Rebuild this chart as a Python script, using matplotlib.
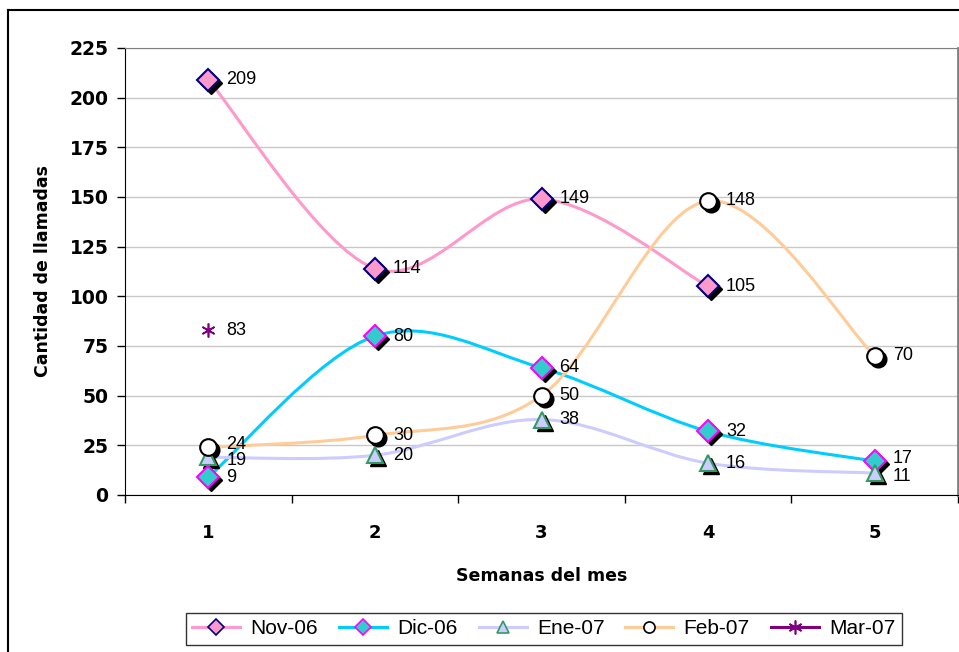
import matplotlib
matplotlib.use('Agg')
import matplotlib.pyplot as plt
import numpy as np
from matplotlib.path import Path
from matplotlib.patches import PathPatch
from matplotlib.lines import Line2D
from matplotlib.transforms import offset_copy

semanas = [1, 2, 3, 4, 5]
nov06 = [209, 114, 149, 105]
dic06 = [9, 80, 64, 32, 17]
ene07 = [19, 20, 38, 16, 11]
feb07 = [24, 30, 50, 148, 70]
mar07 = [83]
series_names = ['Nov-06', 'Dic-06', 'Ene-07', 'Feb-07', 'Mar-07']
yticks = [0, 25, 50, 75, 100, 125, 150, 175, 200, 225]

# line colour, marker, face, edge
styles = {
    'Nov-06': ('#FF99CC', 'D', '#FF99CC', '#000080'),
    'Dic-06': ('#00CCFF', 'D', '#33CCCC', '#FF00FF'),
    'Ene-07': ('#CCCCFF', '^', '#CCCCFF', '#339966'),
    'Feb-07': ('#FFCC99', 'o', 'white', 'black'),
    'Mar-07': ('#800080', (6, 2, 0), '#800080', '#800080'),
}
values = {'Nov-06': nov06, 'Dic-06': dic06, 'Ene-07': ene07,
          'Feb-07': feb07, 'Mar-07': mar07}
msizes = {'D': 11, '^': 12, 'o': 12}
# small vertical nudges (pixels) for crowded labels
nudge = {('Feb-07', 1): 3, ('Ene-07', 1): -3,
         ('Dic-06', 5): 3, ('Ene-07', 5): -3}


def smooth_path(xs, ys, t=1/6):
    # excel-like smoothed line as cubic bezier
    p = np.column_stack([xs, ys]).astype(float)
    n = len(p)
    verts = [p[0]]
    codes = [Path.MOVETO]
    for i in range(n - 1):
        p0 = p[i - 1] if i > 0 else p[i]
        p1 = p[i]
        p2 = p[i + 1]
        p3 = p[i + 2] if i + 2 < n else p[i + 1]
        verts += [p1 + (p2 - p0) * t, p2 - (p3 - p1) * t, p2]
        codes += [Path.CURVE4] * 3
    return Path(verts, codes)


fig = plt.figure(figsize=(9.59, 6.52), dpi=100)
ax = fig.add_axes([125/959, 1 - 495/652, 833/959, 447/652])

shadow = offset_copy(ax.transData, fig=fig, x=3, y=-3, units='dots')

for name in series_names:
    col, mk, fc, ec = styles[name]
    ys = values[name]
    xs = semanas[:len(ys)]
    if len(ys) > 1:
        ax.add_patch(PathPatch(smooth_path(xs, ys), fill=False, edgecolor=col,
                               lw=2.2, zorder=2, capstyle='round'))
    if name == 'Mar-07':
        ax.plot(xs, ys, ls='none', marker=mk, ms=10, mec=col, mew=1.2, zorder=4)
    else:
        ms = msizes[mk]
        ax.plot(xs, ys, ls='none', marker=mk, ms=ms, mfc='black', mec='black',
                transform=shadow, zorder=3)
        ax.plot(xs, ys, ls='none', marker=mk, ms=ms, mfc=fc, mec=ec, mew=1.5,
                zorder=4)
    for x, y in zip(xs, ys):
        dy = nudge.get((name, x), 0)
        ax.annotate(str(y), (x, y), xytext=(18, dy), textcoords='offset pixels',
                    ha='left', va='center', fontsize=13,
                    family='Liberation Sans', zorder=5)

ax.set_xlim(0.5, 5.5)
ax.set_ylim(0, 225)
ax.set_yticks(yticks)
ax.set_xticks([0.5, 1.5, 2.5, 3.5, 4.5, 5.5])
ax.set_xticklabels([])
ax.set_xticks(semanas, minor=True)
ax.set_xticklabels([str(s) for s in semanas], minor=True,
                   fontsize=13, fontweight='bold')
ax.tick_params(axis='x', which='major', direction='out', length=6, width=1)
ax.tick_params(axis='x', which='minor', length=0, pad=21)
ax.tick_params(axis='y', direction='out', length=6, width=1, pad=6,
               labelsize=13.5)
for lab in ax.get_yticklabels():
    lab.set_fontweight('bold')

ax.grid(axis='y', color='#C8C8C8', lw=1)
ax.set_axisbelow(True)
ax.spines['left'].set_color('black')
ax.spines['bottom'].set_color('black')
ax.spines['top'].set_color('#808080')
ax.spines['right'].set_color('#808080')
ax.spines['right'].set_linewidth(2)

ax.set_ylabel('Cantidad de llamadas', fontsize=12.5, fontweight='bold')
ax.yaxis.set_label_coords(-0.088, 0.5)
ax.set_xlabel('Semanas del mes', fontsize=12.5, fontweight='bold')
ax.xaxis.set_label_coords(0.5, -0.16)

handles = []
for name in series_names:
    col, mk, fc, ec = styles[name]
    ms = 10 if name == 'Mar-07' else 8
    handles.append(Line2D([], [], color=col, lw=2.2, marker=mk, ms=ms,
                          mfc=fc, mec=ec, mew=1.2))
leg = fig.legend(handles, series_names, loc='center',
                 bbox_to_anchor=(0.567, 1 - 629/652), ncol=5,
                 prop={'family': 'Liberation Sans', 'size': 15},
                 frameon=True, fancybox=False, edgecolor='black',
                 handlelength=2.3, columnspacing=1.0, handletextpad=0.5,
                 borderpad=0.3)
leg.get_frame().set_linewidth(1)

# outer chart border
fig.add_artist(Line2D([8/959, 8/959], [0, 1 - 10/652], color='black', lw=1.5,
                      transform=fig.transFigure))
fig.add_artist(Line2D([8/959, 1], [1 - 10/652, 1 - 10/652], color='black',
                      lw=1.5, transform=fig.transFigure))

fig.savefig('out.png', dpi=100)
